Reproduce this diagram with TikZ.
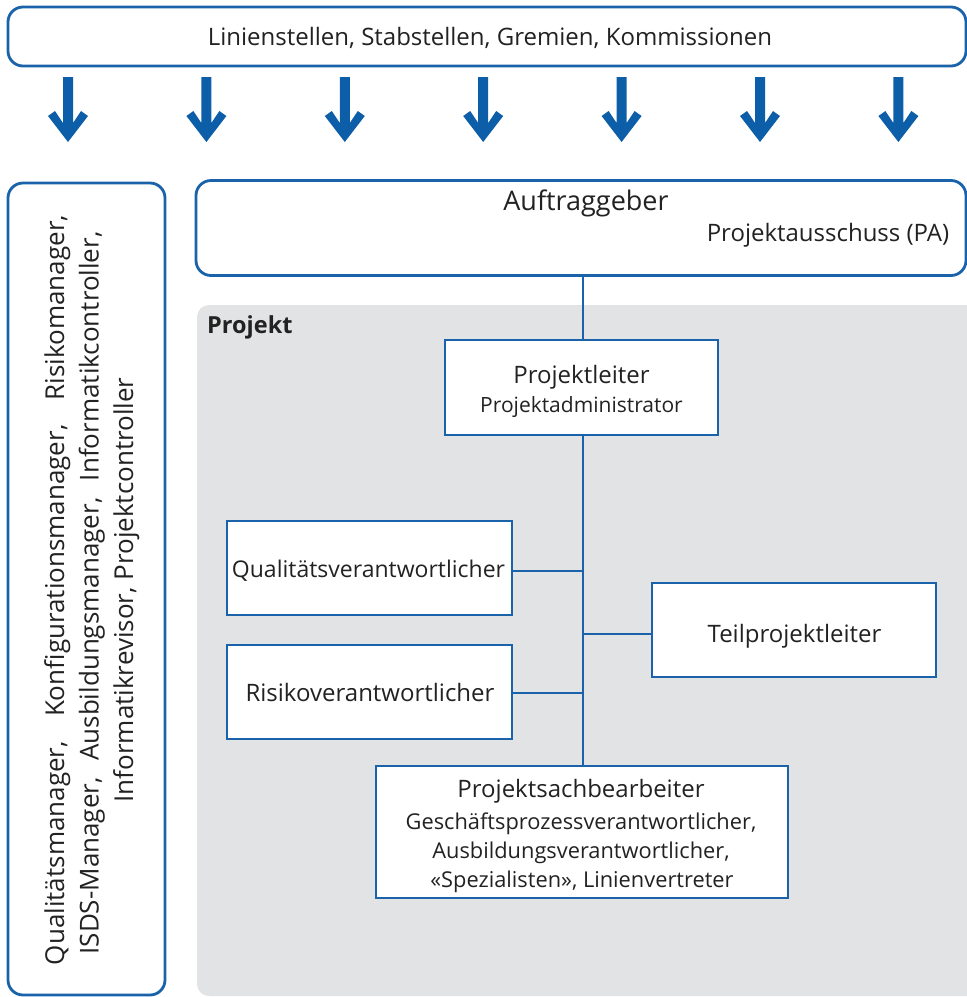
\documentclass[tikz,border=0pt]{standalone}
\usepackage{fontspec}
\setmainfont{Open Sans}
\definecolor{lineblue}{HTML}{1A63AB}
\definecolor{arrowblue}{HTML}{0D5EA8}
\definecolor{projgray}{HTML}{E2E3E5}
\definecolor{txt}{HTML}{222222}
\tikzset{
  roundbox/.style={draw=lineblue, line width=2.8pt, rounded corners=15pt, fill=white, inner sep=0pt},
  rolebox/.style={draw=lineblue, line width=2.8pt, fill=white, inner sep=0pt},
  link/.style={draw=lineblue, line width=2.8pt},
  label/.style={text=txt, inner sep=0pt, anchor=base},
  big/.style={font=\fontsize{24}{28}\selectfont},
  small/.style={font=\fontsize{21.8}{25}\selectfont},
  side/.style={font=\fontsize{26}{30}\selectfont},
}
\begin{document}
\begin{tikzpicture}[x=1pt,y=-1pt]
\useasboundingbox (0,0) rectangle (967,997);

% project area
\fill[projgray, rounded corners=12pt] (197,305) rectangle (1000,996);
\node[label, anchor=base west, font=\bfseries\fontsize{23.5}{27}\selectfont] (proj) at (207,333) {Projekt};

% top bar with the line organisation
\node[roundbox, minimum width=958pt, minimum height=59pt] (line) at (487,36.5) {};
\node[label, big] (linetext) at (490,45) {Linienstellen, Stabstellen, Gremien, Kommissionen};

% arrows from the line organisation
\foreach \i in {0,...,6}{
  \fill[arrowblue, shift={(68+138.4*\i,0)}]
    (-5,77) -- (5,77) -- (5,123) -- (13,111) -- (20,116) -- (0,142)
    -- (-20,116) -- (-13,111) -- (-5,123) -- cycle;
}

% staff roles on the left
\node[roundbox, minimum width=157pt, minimum height=812pt] (staff) at (86.5,589) {};
\node[label, side, rotate=90] (s1) at (64,590)
  {\makebox[750pt][s]{Qualitätsmanager, Konfigurationsmanager, Risikomanager,}};
\node[label, side, rotate=90] (s2) at (98.5,593)
  {\makebox[723pt][s]{ISDS-Manager, Ausbildungsmanager, Informatikcontroller,}};
\node[label, side, rotate=90] (s3) at (133,590) {Informatikrevisor, Projektcontroller};

% client
\node[roundbox, minimum width=770pt, minimum height=95pt] (client) at (581,228) {};
\node[label, font=\fontsize{27}{32}\selectfont] (clienttext) at (586,210) {Auftraggeber};
\node[label, big] (pa) at (828,241) {Projektausschuss (PA)};

% project roles
\node[rolebox, minimum width=273pt, minimum height=95pt] (pl) at (581.5,387.5) {};
\node[label, big] (pltext) at (581.5,383) {Projektleiter};
\node[label, small, font=\fontsize{21}{25}\selectfont] (padm) at (581.5,412) {Projektadministrator};

\node[rolebox, minimum width=285pt, minimum height=94pt] (qv) at (369.5,568) {};
\node[label, font=\fontsize{23}{27}\selectfont] (qvtext) at (368.5,577) {Qualitätsverantwortlicher};

\node[rolebox, minimum width=285pt, minimum height=94pt] (rv) at (369.5,692) {};
\node[label, big] (rvtext) at (370,701) {Risikoverantwortlicher};

\node[rolebox, minimum width=284pt, minimum height=94pt] (tpl) at (794,630) {};
\node[label, big] (tpltext) at (794.5,642) {Teilprojektleiter};

\node[rolebox, minimum width=412pt, minimum height=132pt] (psb) at (582,832) {};
\node[label, big] (psbtext) at (581,797) {Projektsachbearbeiter};
\node[label, small] (psb1) at (581,829) {Geschäftsprozessverantwortlicher,};
\node[label, small] (psb2) at (581,858) {Ausbildungsverantwortlicher,};
\node[label, small] (psb3) at (582,887) {«Spezialisten», Linienvertreter};

% connectors
\coordinate (jq) at (583,571);
\coordinate (jt) at (583,634);
\coordinate (jr) at (583,693);
\draw[link] (client.south -| jq) -- (pl.north -| jq);
\draw[link] (pl.south -| jq) -- (psb.north -| jq);
\draw[link] (jq -| qv.east) -- (jq);
\draw[link] (jr -| rv.east) -- (jr);
\draw[link] (jt) -- (jt -| tpl.west);
\end{tikzpicture}
\end{document}
